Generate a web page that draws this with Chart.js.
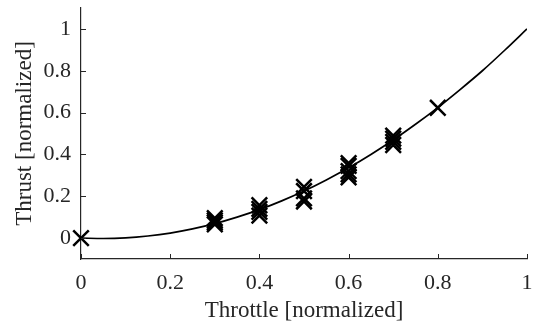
<!DOCTYPE html>
<html>
<head>
<meta charset="utf-8">
<script src="https://cdn.jsdelivr.net/npm/chart.js@4.4.1/dist/chart.umd.min.js"></script>
<style>
  html, body { margin: 0; padding: 0; background: #fff; }
  #wrap { width: 534px; height: 325px; }
</style>
</head>
<body>
<div id="wrap"><canvas id="thrustChart" width="534" height="325"></canvas></div>
<script>
// fitted thrust curve
const CURVE_X = [0, 0.05, 0.1, 0.15, 0.2, 0.25, 0.3, 0.35, 0.4, 0.45, 0.5, 0.55, 0.6, 0.65, 0.7, 0.75, 0.8, 0.85, 0.9, 0.95, 1];
const CURVE_Y = [0, -0.002, 0.001, 0.01, 0.024, 0.044, 0.069, 0.1, 0.136, 0.178, 0.225, 0.278, 0.336, 0.4, 0.469, 0.544, 0.624, 0.71, 0.8, 0.898, 1.0];

// measured samples (x markers)
const MEAS_X = [0, 0.3, 0.3, 0.3, 0.3, 0.4, 0.4, 0.4, 0.4, 0.5, 0.5, 0.5, 0.5, 0.6, 0.6, 0.6, 0.6, 0.6, 0.7, 0.7, 0.7, 0.7, 0.8];
const MEAS_Y = [0, 0.066, 0.075, 0.085, 0.095, 0.107, 0.125, 0.14, 0.157, 0.175, 0.19, 0.225, 0.245, 0.29, 0.305, 0.32, 0.345, 0.358, 0.445, 0.46, 0.475, 0.49, 0.623];

const X_TICKS = [0, 0.2, 0.4, 0.6, 0.8, 1];
const Y_TICKS = [0, 0.2, 0.4, 0.6, 0.8, 1];

const FONT = "'Liberation Serif', 'Times New Roman', serif";
const AXIS_COLOR = "#262626";

// matlab style ticks pointing into the plot
const innerTicks = {
  id: "innerTicks",
  afterDraw(chart) {
    const { ctx, chartArea, scales } = chart;
    ctx.save();
    ctx.strokeStyle = AXIS_COLOR;
    ctx.lineWidth = 1;
    ctx.beginPath();
    X_TICKS.forEach(v => {
      const px = Math.round(scales.x.getPixelForValue(v)) + 0.5;
      ctx.moveTo(px, chartArea.bottom);
      ctx.lineTo(px, chartArea.bottom - 5);
    });
    Y_TICKS.forEach(v => {
      const py = Math.round(scales.y.getPixelForValue(v)) + 0.5;
      ctx.moveTo(chartArea.left, py);
      ctx.lineTo(chartArea.left + 5, py);
    });
    ctx.stroke();
    ctx.restore();
  }
};

function axis(title, ticks, min, max) {
  return {
    type: "linear",
    min: min,
    max: max,
    afterBuildTicks: (s) => { s.ticks = ticks.map(v => ({ value: v })); },
    border: { display: true, color: AXIS_COLOR, width: 1.2 },
    grid: { display: false, drawTicks: false },
    ticks: {
      color: AXIS_COLOR,
      font: { family: FONT, size: 22 },
      callback: (v) => String(+Number(v).toFixed(1))
    },
    title: { display: true, text: title, color: AXIS_COLOR, font: { family: FONT, size: 23 } }
  };
}

const xAxis = axis("Throttle [normalized]", X_TICKS, 0, 1);
xAxis.ticks.padding = 11;
xAxis.title.padding = { top: 0, bottom: 0 };
xAxis.afterFit = (s) => { s.height = 66; s.paddingLeft = 0; s.paddingRight = 0; };

const yAxis = axis("Thrust [normalized]", Y_TICKS, -0.1, 1.1);
yAxis.ticks.padding = 10;
yAxis.title.padding = { top: 11, bottom: 0 };
yAxis.afterFit = (s) => { s.width = 81; s.paddingTop = 0; s.paddingBottom = 0; };

const ctx = document.getElementById("thrustChart").getContext("2d");

new Chart(ctx, {
  type: "scatter",
  data: {
    datasets: [
      {
        data: CURVE_X.map((x, i) => ({ x: x, y: CURVE_Y[i] })),
        showLine: true,
        borderColor: "#000",
        borderWidth: 1.7,
        pointRadius: 0,
        cubicInterpolationMode: "monotone"
      },
      {
        data: MEAS_X.map((x, i) => ({ x: x, y: MEAS_Y[i] })),
        showLine: false,
        clip: false,
        pointStyle: "crossRot",
        pointRadius: 11,
        borderColor: "#000",
        borderWidth: 2.5,
        backgroundColor: "#000"
      }
    ]
  },
  options: {
    responsive: false,
    animation: false,
    layout: { autoPadding: false, padding: { top: 8, right: 7, left: 0, bottom: 0 } },
    scales: { x: xAxis, y: yAxis },
    plugins: { legend: { display: false }, tooltip: { enabled: false } }
  },
  plugins: [innerTicks]
});
</script>
</body>
</html>
